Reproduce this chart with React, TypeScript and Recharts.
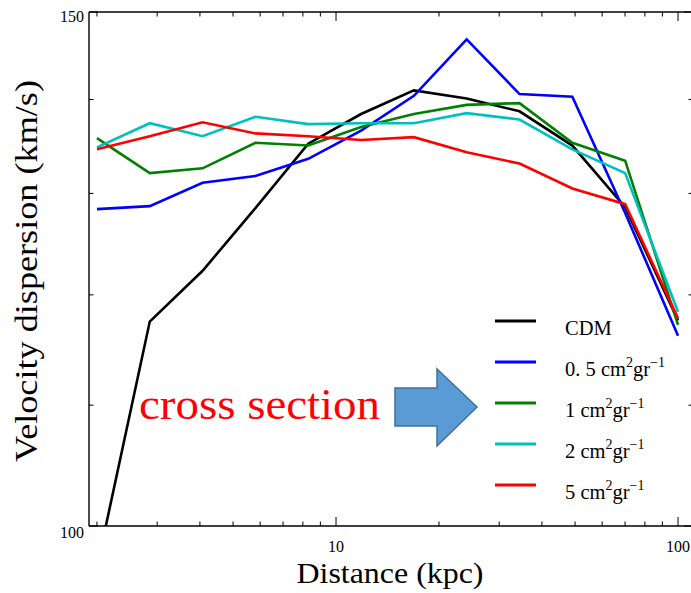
import React from 'react';
import { LineChart, Line, XAxis, YAxis, Legend } from 'recharts';

const distances = [2, 2.854, 4.073, 5.812, 8.294, 11.84, 16.89, 24.1, 34.4, 49.09, 70.05, 100];
const cdm = [96.8, 117.5, 122.3, 128.5, 135.2, 138.4, 141.0, 140.1, 138.7, 135.0, 128.6, 117.6];
const s05 = [128.4, 128.7, 131.1, 131.8, 133.6, 136.6, 140.4, 146.8, 140.6, 140.3, 128.0, 116.2];
const s1 = [135.8, 132.1, 132.6, 135.3, 135.0, 137.0, 138.4, 139.4, 139.6, 135.3, 133.4, 117.2];
const s2 = [134.8, 137.4, 136.0, 138.1, 137.3, 137.4, 137.4, 138.5, 137.8, 134.6, 132.1, 118.4];
const s5 = [134.6, 136.0, 137.5, 136.3, 136.0, 135.6, 135.9, 134.3, 133.1, 130.5, 128.9, 117.8];

const xTicks = [2, 3, 4, 5, 6, 7, 8, 9, 10, 20, 30, 40, 50, 60, 70, 80, 90, 100];
const xLabels = [10, 100];
const yTicks = [100, 110, 120, 130, 140, 150];
const yLabels = [100, 150];

const seriesInfo = [
  { key: 'cdm', color: '#000000', num: '', label: 'CDM' },
  { key: 's05', color: '#0000ff', num: '0. 5', label: '' },
  { key: 's1', color: '#008000', num: '1', label: '' },
  { key: 's2', color: '#00bfbf', num: '2', label: '' },
  { key: 's5', color: '#ff0000', num: '5', label: '' },
];

const data = distances.map((d, i) => ({
  d,
  cdm: cdm[i],
  s05: s05[i],
  s1: s1[i],
  s2: s2[i],
  s5: s5[i],
}));

const FONT = '"Liberation Serif", "DejaVu Serif", serif';
const MAJOR = 9;
const MINOR = 4.5;

const BottomTick = (props: any) => {
  const { x, y, payload } = props;
  const v = payload.value;
  const major = xLabels.includes(v);
  return (
    <g>
      <line x1={x} x2={x} y1={y} y2={y - (major ? MAJOR : MINOR)} stroke="#000" strokeWidth={1} />
      {major && (
        <text x={x} y={y + 26} textAnchor="middle" fontFamily={FONT} fontSize={16} fill="#000">
          {v}
        </text>
      )}
    </g>
  );
};

const TopTick = (props: any) => {
  const { x, y, payload } = props;
  const major = xLabels.includes(payload.value);
  return <line x1={x} x2={x} y1={y} y2={y + (major ? MAJOR : MINOR)} stroke="#000" strokeWidth={1} />;
};

const LeftTick = (props: any) => {
  const { x, y, payload } = props;
  const v = payload.value;
  const major = yLabels.includes(v);
  return (
    <g>
      <line x1={x} x2={x + (major ? MAJOR : MINOR)} y1={y} y2={y} stroke="#000" strokeWidth={1} />
      {major && (
        <text x={x - 5} y={y + (v === 150 ? 10 : 12)} textAnchor="end" fontFamily={FONT} fontSize={16} fill="#000">
          {v}
        </text>
      )}
    </g>
  );
};

const RightTick = (props: any) => {
  const { x, y, payload } = props;
  const major = yLabels.includes(payload.value);
  return <line x1={x} x2={x - (major ? MAJOR : MINOR)} y1={y} y2={y} stroke="#000" strokeWidth={1} />;
};

const renderLegend = (props: any) => {
  const payload = props.payload || [];
  return (
    <svg width={190} height={200} style={{ overflow: 'visible' }}>
      {payload.map((p: any, i: number) => {
        const info = seriesInfo.find((s) => s.key === p.dataKey) || seriesInfo[i];
        const cy = 15 + i * 41;
        return (
          <g key={info.key}>
            <line x1={0} x2={41} y1={cy} y2={cy} stroke={p.color} strokeWidth={3} />
            <text x={70} y={cy + 14} fontFamily={FONT} fontSize={20.5} fill="#000">
              {info.label ? (
                info.label
              ) : (
                <>
                  <tspan>{info.num} cm</tspan>
                  <tspan dy={-9} fontSize={14}>2</tspan>
                  <tspan dy={9}>gr</tspan>
                  <tspan dy={-9} fontSize={14}>−1</tspan>
                </>
              )}
            </text>
          </g>
        );
      })}
    </svg>
  );
};

export default function App() {
  return (
    <div style={{ position: 'absolute', left: 0, top: 0, width: 691, height: 593, overflow: 'hidden', background: '#fff' }}>
      <LineChart
        width={700}
        height={593}
        data={data}
        margin={{ top: 11, right: 6, bottom: 66, left: 88 }}
      >
        <XAxis
          dataKey="d"
          type="number"
          scale="log"
          domain={[1.8957, 110.6]}
          allowDataOverflow
          ticks={xTicks}
          interval={0}
          height={1}
          tickSize={0}
          tickMargin={0}
          tickLine={false}
          axisLine={{ stroke: '#000', strokeWidth: 1.4 }}
          tick={<BottomTick />}
        />
        <XAxis
          xAxisId="top"
          orientation="top"
          dataKey="d"
          type="number"
          scale="log"
          domain={[1.8957, 110.6]}
          allowDataOverflow
          ticks={xTicks}
          interval={0}
          height={1}
          tickSize={0}
          tickMargin={0}
          tickLine={false}
          axisLine={{ stroke: '#000', strokeWidth: 1.4 }}
          tick={<TopTick />}
        />
        <YAxis
          type="number"
          scale="log"
          domain={[100, 150]}
          allowDataOverflow
          ticks={yTicks}
          interval={0}
          width={1}
          tickSize={0}
          tickMargin={0}
          tickLine={false}
          axisLine={{ stroke: '#000', strokeWidth: 1.4 }}
          tick={<LeftTick />}
        />
        <YAxis
          yAxisId="right"
          orientation="right"
          type="number"
          scale="log"
          domain={[100, 150]}
          allowDataOverflow
          ticks={yTicks}
          interval={0}
          width={1}
          tickSize={0}
          tickMargin={0}
          tickLine={false}
          axisLine={{ stroke: '#000', strokeWidth: 1.4 }}
          tick={<RightTick />}
        />
        {seriesInfo.map((s) => (
          <Line
            key={s.key}
            dataKey={s.key}
            stroke={s.color}
            strokeWidth={2.6}
            dot={false}
            type="linear"
            isAnimationActive={false}
          />
        ))}
        <Legend
          layout="horizontal"
          verticalAlign="middle"
          align="center"
          content={renderLegend}
          wrapperStyle={{ position: 'absolute', left: 495, top: 306, width: 190, height: 200 }}
        />
      </LineChart>
      <svg
        width={691}
        height={593}
        style={{ position: 'absolute', left: 0, top: 0, pointerEvents: 'none' }}
      >
        <text x={390} y={583} textAnchor="middle" fontFamily={FONT} fontSize={30} fill="#000" textLength={187} lengthAdjust="spacingAndGlyphs">
          Distance (kpc)
        </text>
        <text
          transform="translate(37,271) rotate(-90)"
          textAnchor="middle"
          fontFamily={FONT}
          fontSize={31}
          fill="#000"
          textLength={382}
          lengthAdjust="spacingAndGlyphs"
        >
          Velocity dispersion (km/s)
        </text>
        <text x={139} y={419} fontFamily={FONT} fontSize={44} fill="#ff0000" textLength={241} lengthAdjust="spacingAndGlyphs">
          cross section
        </text>
        <polygon
          points="395,388 437,388 437,369 477,407 437,446 437,426 395,426"
          fill="#5b9bd5"
          stroke="#41719c"
          strokeWidth={1.5}
        />
      </svg>
    </div>
  );
}
